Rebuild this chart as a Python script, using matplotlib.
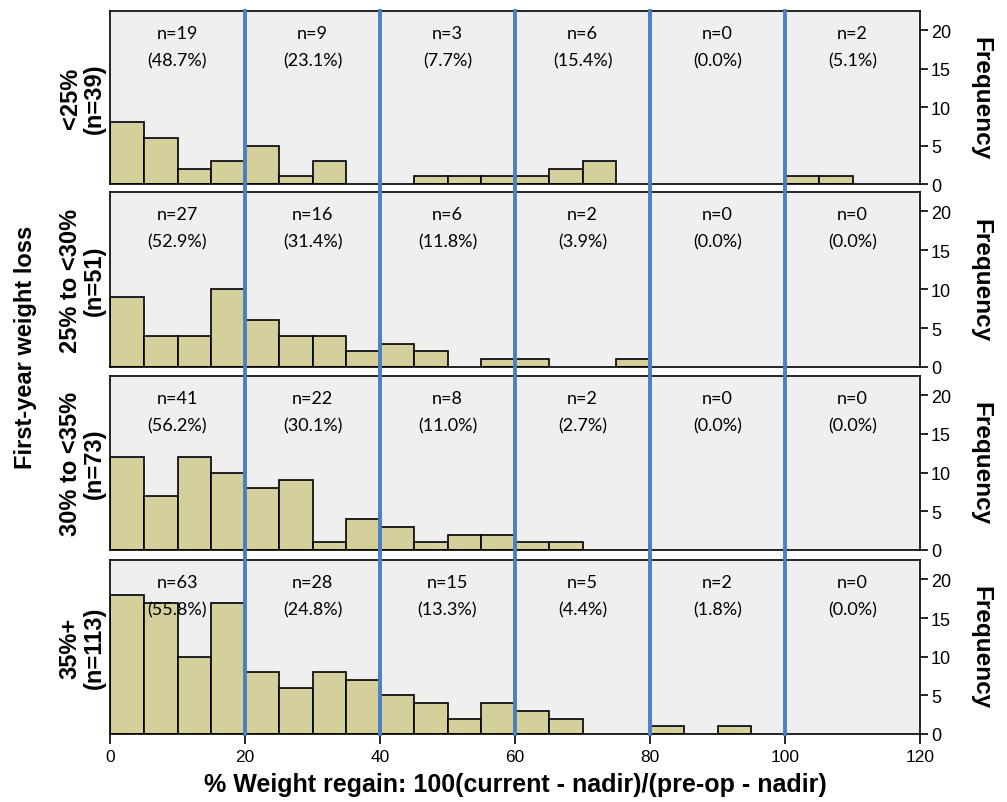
import numpy as np
import matplotlib.pyplot as plt

plt.rcParams['font.family'] = ['Liberation Sans', 'DejaVu Sans']

# first-year weight loss groups (one panel each)
groups = ["<25%\n(n=39)", "25% to <30%\n(n=51)", "30% to <35%\n(n=73)", "35%+\n(n=113)"]
totals = [39, 51, 73, 113]

# histogram bins of 5 % regain, 0..120
bin_left = np.arange(0, 120, 5)
counts = [
    [8, 6, 2, 3, 5, 1, 3, 0, 0, 1, 1, 1, 1, 2, 3, 0, 0, 0, 0, 0, 1, 1, 0, 0],
    [9, 4, 4, 10, 6, 4, 4, 2, 3, 2, 0, 1, 1, 0, 0, 1, 0, 0, 0, 0, 0, 0, 0, 0],
    [12, 7, 12, 10, 8, 9, 1, 4, 3, 1, 2, 2, 1, 1, 0, 0, 0, 0, 0, 0, 0, 0, 0, 0],
    [18, 17, 10, 17, 8, 6, 8, 7, 5, 4, 2, 4, 3, 2, 0, 0, 1, 0, 1, 0, 0, 0, 0, 0],
]

# number of patients in each 20-point regain band
band_centers = [10, 30, 50, 70, 90, 110]
band_n = [
    [19, 9, 3, 6, 0, 2],
    [27, 16, 6, 2, 0, 0],
    [41, 22, 8, 2, 0, 0],
    [63, 28, 15, 5, 2, 0],
]
cutoffs = [20, 40, 60, 80, 100]

bar_color = "#D4CF9B"
line_color = "#4A7FC1"
bg = "#EFEFEF"

W, H = 1007, 803
fig = plt.figure(figsize=(W / 100, H / 100), dpi=100)
tops = [12, 193, 377, 561]
bottoms = [185, 368, 551, 735]
left, width = 110 / W, 810 / W

for i in range(4):
    t, b = tops[i], bottoms[i]
    ax = fig.add_axes([left, 1 - b / H, width, (b - t) / H])
    ax.set_facecolor(bg)
    c = np.array(counts[i])
    keep = c > 0
    ax.bar(bin_left[keep], c[keep], width=5, align='edge', color=bar_color,
           edgecolor='black', linewidth=1.2, zorder=2)

    # blue cut lines, stretched across the gap to the panel above
    ymax = 1.0 if i == 0 else 1 + (t - bottoms[i - 1]) / (b - t)
    for x in cutoffs:
        ax.axvline(x, ymin=0, ymax=ymax, color=line_color, lw=2.8, zorder=3, clip_on=False)

    tr = ax.get_xaxis_transform()
    for xc, n in zip(band_centers, band_n[i]):
        ax.text(xc, 0.875, f"n={n}", transform=tr, ha='center', va='center',
                fontsize=13, family='Lato', zorder=4)
        ax.text(xc, 0.715, f"({100 * n / totals[i]:.1f}%)", transform=tr, ha='center',
                va='center', fontsize=13, family='Lato', zorder=4)

    ax.set_xlim(0, 120)
    ax.set_ylim(0, 22.5)
    ax.set_yticks([0, 5, 10, 15, 20])
    ax.yaxis.tick_right()
    ax.yaxis.set_label_position('right')
    ax.set_ylabel("Frequency", rotation=-90, va='bottom', fontsize=17.5,
                  fontweight='bold', labelpad=13)
    ax.tick_params(axis='y', direction='out', length=6, width=1.2, labelsize=13, pad=2)
    ax.tick_params(left=False, labelleft=False)
    for s in ax.spines.values():
        s.set_linewidth(1.2)
    if i == 3:
        ax.set_xticks([0, 20, 40, 60, 80, 100, 120])
        ax.tick_params(axis='x', direction='out', length=7, width=1.2, labelsize=12.5)
        ax.set_xlabel("% Weight regain: 100(current - nadir)/(pre-op - nadir)",
                      fontsize=18, fontweight='bold', labelpad=6)
    else:
        ax.tick_params(bottom=False, labelbottom=False)

    fig.text(82 / W, 1 - (t + b) / 2 / H, groups[i], rotation=90, ha='center',
             va='center', multialignment='center', fontsize=17, fontweight='bold',
             linespacing=1.05)

fig.text(26 / W, 1 - 347 / H, "First-year weight loss",
         rotation=90, ha='center', va='center', fontsize=17, fontweight='bold')

fig.savefig("out.png", dpi=100)
